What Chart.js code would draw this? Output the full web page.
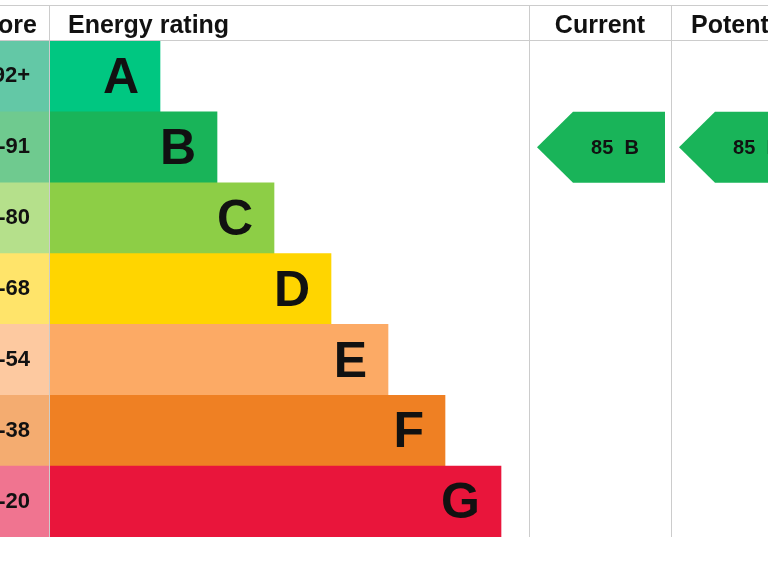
<!DOCTYPE html>
<html>
<head>
<meta charset="utf-8">
<script src="https://cdn.jsdelivr.net/npm/chart.js@4"></script>
<style>
  html, body { margin: 0; padding: 0; background: #fff; }
  #wrap { width: 768px; height: 576px; }
</style>
</head>
<body>
<div id="wrap"><canvas id="epc"></canvas></div>
<script>
// bands and scores
const ratings = ['A', 'B', 'C', 'D', 'E', 'F', 'G'];
const scoreBands = ['92+', '81-91', '69-80', '55-68', '39-54', '21-38', '1-20'];
const barLengths = [111, 168, 225, 282, 339, 396, 452];
const bandColors = ['#00c781', '#19b459', '#8dce46', '#ffd500', '#fcaa65', '#ef8023', '#e9153b'];
const scoreColors = ['#63c8a6', '#6fca8f', '#b5e08b', '#ffe46a', '#fdc9a0', '#f4ac70', '#f07490'];
const currentScore = 85, currentBand = 'B';
const potentialScore = 85, potentialBand = 'B';

const FONT = '"Liberation Sans", Arial, sans-serif';

// header, grid lines, letters, arrows
const epcPlugin = {
  id: 'epc',
  afterDatasetsDraw(chart) {
    const ctx = chart.ctx;
    const x = chart.scales.x, y = chart.scales.y;
    const top = chart.chartArea.top, bottom = chart.chartArea.bottom;
    const colA = x.getPixelForValue(480), colB = x.getPixelForValue(622);

    ctx.save();
    ctx.strokeStyle = '#cccccc';
    ctx.lineWidth = 1;
    ctx.beginPath();
    ctx.moveTo(0, 5.5); ctx.lineTo(768, 5.5);
    ctx.moveTo(0, top - 0.5); ctx.lineTo(768, top - 0.5);
    [x.getPixelForValue(0), colA, colB].forEach(px => {
      ctx.moveTo(Math.round(px) + 0.5, 5); ctx.lineTo(Math.round(px) + 0.5, bottom);
    });
    ctx.stroke();

    ctx.fillStyle = '#111';
    ctx.font = 'bold 25px ' + FONT;
    ctx.textBaseline = 'alphabetic';
    ctx.textAlign = 'right';
    ctx.fillText('Score', 37, 33);
    ctx.textAlign = 'left';
    ctx.fillText('Energy rating', 68, 33);
    ctx.textAlign = 'center';
    ctx.fillText('Current', (colA + colB) / 2, 33);
    ctx.textAlign = 'left';
    ctx.fillText('Potential', colB + 20, 33);

    // band letters and score ranges
    ctx.textBaseline = 'middle';
    ratings.forEach((r, i) => {
      const cy = y.getPixelForValue(i);
      ctx.fillStyle = '#111';
      ctx.font = 'bold 50px ' + FONT;
      ctx.textAlign = 'right';
      ctx.fillText(r, x.getPixelForValue(barLengths[i]) - 21, cy + 3);
      ctx.font = 'bold 22px ' + FONT;
      ctx.fillText(scoreBands[i], 30, cy);
    });

    // arrows
    const arrow = (left, score, band) => {
      const i = ratings.indexOf(band);
      const cy = y.getPixelForValue(i);
      const h = y.getPixelForValue(1) - y.getPixelForValue(0);
      const t = cy - h / 2, b = cy + h / 2;
      ctx.fillStyle = bandColors[i];
      ctx.beginPath();
      ctx.moveTo(left, cy);
      ctx.lineTo(left + 36, t);
      ctx.lineTo(left + 128, t);
      ctx.lineTo(left + 128, b);
      ctx.lineTo(left + 36, b);
      ctx.closePath();
      ctx.fill();
      ctx.fillStyle = '#111';
      ctx.font = 'bold 20px ' + FONT;
      ctx.textAlign = 'center';
      ctx.fillText(score + '  ' + band, left + 78, cy + 1);
    };
    arrow(colA + 8, currentScore, currentBand);
    arrow(colB + 8, potentialScore, potentialBand);
    ctx.restore();
  }
};

new Chart(document.getElementById('epc'), {
  type: 'bar',
  data: {
    labels: ratings,
    datasets: [
      {
        data: scoreBands.map(() => [-49, 0]),
        backgroundColor: scoreColors,
        barPercentage: 1, categoryPercentage: 1, grouped: false
      },
      {
        data: barLengths.map(v => [0, v]),
        backgroundColor: bandColors,
        barPercentage: 1, categoryPercentage: 1, grouped: false
      }
    ]
  },
  options: {
    indexAxis: 'y',
    responsive: true,
    maintainAspectRatio: false,
    animation: false,
    layout: { padding: { top: 41, bottom: 39, left: 0, right: 0 } },
    plugins: { legend: { display: false }, tooltip: { enabled: false } },
    scales: {
      x: { type: 'linear', min: -49, max: 719, display: false },
      y: { display: false }
    }
  },
  plugins: [epcPlugin]
});
</script>
</body>
</html>
